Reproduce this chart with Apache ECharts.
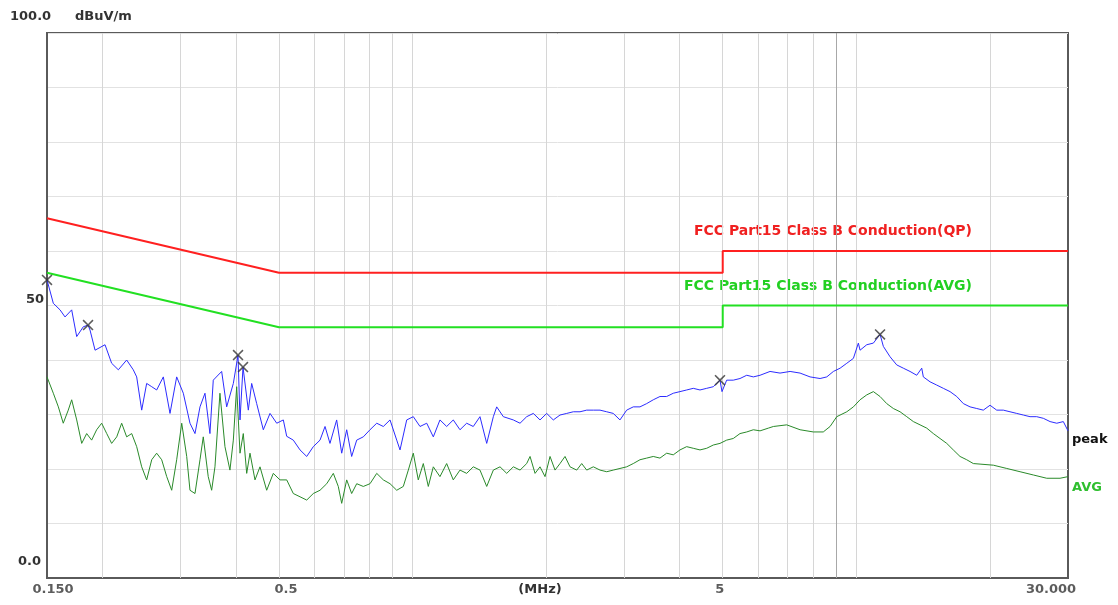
<!DOCTYPE html>
<html>
<head>
<meta charset="utf-8">
<script src="https://cdn.jsdelivr.net/npm/echarts@6/dist/echarts.min.js"></script>
<style>
html,body{margin:0;padding:0;background:#fff;}
#chart{width:1118px;height:605px;}
</style>
</head>
<body>
<div id="chart"></div>
<script>
// ---- data (frequency in MHz, level in dBuV/m) ----
const peakFreq = [0.150,0.155,0.1605,0.1647,0.1705,0.175,0.1811,0.1856,0.1875,0.1925,
0.2027,0.2098,0.2172,0.2268,0.2347,0.2389,0.2452,0.2516,0.2583,0.2650,
0.2743,0.2840,0.2940,0.3043,0.3150,0.3233,0.3318,0.3405,0.3494,0.3555,
0.3713,0.3811,0.3945,0.4042,0.4084,0.4148,0.4264,0.4339,0.4453,0.4609,
0.4772,0.4941,0.5113,0.5204,0.5385,0.5576,0.5773,0.5974,0.6186,0.6349,
0.6514,0.6744,0.6922,0.7104,0.7290,0.7483,0.7744,0.8018,0.8302,0.8592,
0.8896,0.9210,0.9369,0.9700,1.0038,1.0393,1.0761,1.1136,1.1527,1.1935,
1.2351,1.2788,1.3240,1.3702,1.4187,1.4692,1.5206,1.5474,1.6014,1.6869,
1.7466,1.8080,1.8711,1.9373,2.0057,2.0757,2.1491,2.2251,2.3028,2.3841,
2.4686,2.5547,2.6450,2.7384,2.8334,2.9336,3.0374,3.1433,3.2544,3.3695,
3.4871,3.6102,3.7379,3.8682,4.0050,4.1466,4.2918,4.4435,4.6005,4.7610,
4.9295,4.981,5.1038,5.2820,5.4687,5.6636,5.8613,6.0687,6.3915,6.7313,
7.0926,7.4699,7.8669,8.2869,8.5802,8.8797,9.1937,9.5190,9.8511,10.108,
10.197,10.558,10.926,11.312,11.507,11.913,12.334,12.764,13.216,13.683,
14.044,14.161,14.662,15.180,15.711,16.266,16.841,17.429,18.045,18.683,
19.331,20.016,20.723,21.445,22.204,22.989,23.793,24.634,25.504,26.400,
27.333,28.299,29.280,30.0];
const peakLevel = [54.7,50.4,49.2,47.9,49.2,44.3,46.1,46.4,45.5,41.8,
42.8,39.4,38.2,40,38.2,36.9,30.8,35.7,35.1,34.5,
36.9,30.2,36.9,33.9,28.4,26.5,31.4,33.9,26.5,36.3,
37.9,31.4,35.7,40.9,29,38.7,30.8,35.7,32,27.2,
30.2,28.4,29,26,25.3,23.5,22.3,24.1,25.3,27.8,
24.7,29,22.9,27.2,22.3,25.3,25.9,27.2,28.4,27.8,
29,25.3,23.5,29,29.6,27.8,28.4,25.9,29,27.8,
29,27.2,28.4,27.8,29.6,24.7,29.6,31.4,29.6,29,
28.4,29.6,30.2,29,30.2,29,29.9,30.2,30.5,30.5,
30.8,30.8,30.8,30.5,30.2,29,30.8,31.4,31.4,32,
32.7,33.3,33.3,33.9,34.2,34.5,34.8,34.5,34.8,35.1,
36.3,34.2,36.3,36.3,36.6,37.2,36.9,37.2,37.9,37.6,
37.9,37.6,36.9,36.6,36.9,37.9,38.5,39.4,40.3,43.1,
41.8,42.8,43.1,44.7,42.5,40.6,39.1,38.5,37.9,37.2,
38.5,36.9,36,35.4,34.8,34.2,33.3,32,31.4,31.1,
30.8,31.7,30.8,30.8,30.5,30.2,29.9,29.6,29.6,29.3,
28.7,28.4,28.7,27];

const avgFreq = [0.150,0.155,0.1591,0.1632,0.1675,0.1705,0.175,0.1796,0.1843,0.1891,
0.1941,0.1992,0.2045,0.2098,0.2154,0.2210,0.2268,0.2328,0.2389,0.2452,
0.2516,0.2583,0.2650,0.2720,0.2792,0.2865,0.2940,0.3018,0.3097,0.3150,
0.3233,0.3318,0.3375,0.3463,0.3525,0.3586,0.3680,0.3777,0.3876,0.3945,
0.4014,0.4084,0.4154,0.4228,0.4301,0.4414,0.4530,0.4690,0.4854,0.5025,
0.5204,0.5385,0.5576,0.5773,0.5974,0.6186,0.6405,0.6628,0.6801,0.6922,
0.7104,0.7290,0.7483,0.7744,0.8018,0.8302,0.8592,0.8896,0.9210,0.9530,
0.9781,1.0038,1.0300,1.0572,1.0850,1.1136,1.1527,1.1935,1.2351,1.2788,
1.3240,1.3702,1.4187,1.4692,1.5206,1.5743,1.6300,1.6869,1.7466,1.8080,
1.8397,1.8881,1.9373,1.9883,2.0406,2.0942,2.1491,2.2058,2.2637,2.3438,
2.4054,2.4686,2.5547,2.6450,2.7384,2.8334,2.9336,3.0374,3.1433,3.2544,
3.3695,3.4871,3.6102,3.7379,3.8682,4.0050,4.1466,4.2918,4.4435,4.6005,
4.7610,4.9295,5.1038,5.2820,5.4687,5.6636,5.8613,6.0687,6.3354,6.5033,
6.9701,7.4699,8.0019,8.4254,8.7276,9.0362,9.5190,9.8511,10.197,10.558,
10.926,11.312,11.711,12.120,12.549,12.993,13.447,13.922,14.414,14.916,
15.442,15.988,16.545,17.130,17.736,18.355,19.005,20.365,21.833,23.394,
25.067,26.864,28.785,30.0];
const avgLevel = [36.9,33.9,31.4,28.4,30.8,32.7,29,24.7,26.5,25.3,
27.2,28.4,26.5,24.7,25.9,28.4,25.9,26.5,24.1,20.4,
18,21.7,22.9,21.7,18.6,16.1,21.7,28.4,22.3,16.1,
15.5,21.7,25.9,18.6,16.1,20.4,33.9,24.1,19.8,25.3,
35.1,22.9,26.5,19.2,22.9,18,20.4,16.1,19.2,18,
18,15.5,14.9,14.3,15.5,16.1,17.3,19.2,16.8,13.7,
18,15.5,17.3,16.8,17.3,19.2,18,17.3,16.1,16.8,
19.8,22.9,18,21,16.8,20.4,18.6,21,18,19.8,
19.2,20.4,19.8,16.8,19.8,20.4,19.2,20.4,19.8,21,
22.3,19.2,20.4,18.6,22.3,19.8,21,22.3,20.4,19.8,
21,19.8,20.4,19.8,19.5,19.8,20.1,20.4,21,21.7,
22,22.3,22,22.9,22.6,23.5,24.1,23.8,23.5,23.8,
24.4,24.7,25.3,25.6,26.5,26.8,27.2,27,27.5,27.8,
28.1,27.2,26.8,26.8,27.8,29.6,30.5,31.4,32.7,33.6,
34.2,33.3,32,31.1,30.5,29.6,28.7,28.1,27.5,26.5,
25.6,24.7,23.5,22.3,21.7,21,20.9,20.7,20.1,19.5,
18.9,18.3,18.3,18.6];

const limitFreq = [0.15, 0.5, 5, 5, 30];
const limitQP = [66, 56, 56, 60, 60];
const limitAVG = [56, 46, 46, 50, 50];

const markerFreq = [0.150, 0.1856, 0.4042, 0.4148, 4.9295, 11.312];
const markerLevel = [54.7, 46.4, 40.9, 38.7, 36.3, 44.7];

const xTickValues = [0.15, 0.5, 5, 30];
const xTickLabels = ['0.150', '0.5', '5', '30.000'];
const yTickValues = [0, 50, 100];
const yTickLabels = ['0.0', '50', '100.0'];
const gridFreqs = [0.2,0.3,0.4,0.5,0.6,0.7,0.8,0.9,1,2,3,4,5,6,7,8,9,10,20];

const qpTitle = 'FCC Part15 Class B Conduction(QP)';
const avgTitle = 'FCC Part15 Class B Conduction(AVG)';

// ---- chart ----
const FONT = '"DejaVu Sans", "Liberation Sans", sans-serif';
const zip = (a, b) => a.map((v, i) => [v, b[i]]);
const chart = echarts.init(document.getElementById('chart'));
const xLabelOffsets = [[6,0],[7,0],[-3,0],[-17,0]];
const yRichKeys = ['b','m','t'];

const option = {
  backgroundColor: '#fff',
  animation: false,
  textStyle: { fontFamily: FONT },
  grid: { left: 47, right: 50, top: 33, bottom: 27, show: true, borderColor: '#5a5a5a', borderWidth: 2, containLabel: false },
  xAxis: {
    type: 'log', logBase: 10, min: 0.15, max: 30,
    name: '(MHz)', nameLocation: 'middle', nameGap: 12,
    nameTextStyle: { fontFamily: FONT, fontSize: 13, fontWeight: 'bold', color: '#333', verticalAlign: 'middle', padding: [0, 35, 0, 0] },
    axisLine: { show: true, lineStyle: { color: '#5a5a5a', width: 2 } },
    axisTick: { show: false },
    axisLabel: { show: false },
    splitLine: { show: false },
    minorSplitLine: { show: false }
  },
  yAxis: {
    type: 'value', min: 0, max: 100, interval: 10,
    name: 'dBuV/m', nameLocation: 'end', nameGap: 16,
    nameTextStyle: { fontFamily: FONT, fontSize: 13, fontWeight: 'bold', color: '#333', align: 'left', verticalAlign: 'middle', padding: [0, 0, 0, 28] },
    axisLine: { show: true, lineStyle: { color: '#5a5a5a', width: 2 } },
    axisTick: { show: false },
    splitLine: { show: true, lineStyle: { color: '#e2e2e2', width: 1 } },
    axisLabel: {
      show: true, align: 'left', margin: 40, verticalAlign: 'middle',
      fontFamily: FONT, fontSize: 13, fontWeight: 'bold', color: '#333',
      formatter: v => {
        const i = yTickValues.indexOf(v);
        return i < 0 ? '' : '{' + yRichKeys[i] + '|' + yTickLabels[i] + '}';
      },
      rich: {
        t: { fontFamily: FONT, fontSize: 13, fontWeight: 'bold', color: '#333', padding: [0, 0, 32, 3] },
        m: { fontFamily: FONT, fontSize: 13, fontWeight: 'bold', color: '#333', padding: [0, 0, 11, 19] },
        b: { fontFamily: FONT, fontSize: 13, fontWeight: 'bold', color: '#333', padding: [0, 0, 32, 11] }
      }
    }
  },
  graphic: [
    { type: 'text', right: 1118 - 972, top: 224, style: { text: qpTitle, fill: '#f02020', font: 'bold 14px ' + FONT } },
    { type: 'text', right: 1118 - 972, top: 279, style: { text: avgTitle, fill: '#22d022', font: 'bold 14px ' + FONT } }
  ],
  series: [
    {
      name: 'ticks', type: 'scatter', z: 1, clip: false, silent: true,
      symbolSize: 0,
      data: xTickValues.map((v, i) => ({
        value: [v, 0],
        label: { offset: xLabelOffsets[i] }
      })),
      label: {
        show: true, position: 'bottom', distance: 5,
        fontFamily: FONT, fontSize: 13, fontWeight: 'bold', color: '#333',
        formatter: p => xTickLabels[p.dataIndex]
      },
      markLine: {
        silent: true, symbol: 'none', animation: false, z: 1,
        label: { show: false },
        lineStyle: { color: '#d6d6d6', width: 1, type: 'solid' },
        data: gridFreqs.map(f => f === 9 ? { xAxis: f, lineStyle: { color: '#a8a8a8', width: 1, type: 'solid' } } : { xAxis: f })
      }
    },
    {
      name: 'QP limit', type: 'line', z: 3, symbol: 'none',
      data: zip(limitFreq, limitQP),
      lineStyle: { color: '#ff2020', width: 2 }
    },
    {
      name: 'AVG limit', type: 'line', z: 3, symbol: 'none',
      data: zip(limitFreq, limitAVG),
      lineStyle: { color: '#22e022', width: 2 }
    },
    {
      name: 'AVG', type: 'line', z: 4, symbol: 'none',
      data: zip(avgFreq, avgLevel),
      lineStyle: { color: '#2a8a2a', width: 1 },
      endLabel: { show: true, formatter: 'AVG', color: '#2fbf2f', fontFamily: FONT, fontSize: 13, fontWeight: 'bold', distance: 4, offset: [0, 11] }
    },
    {
      name: 'peak', type: 'line', z: 5, symbol: 'none',
      data: zip(peakFreq, peakLevel),
      lineStyle: { color: '#2c2cff', width: 1 },
      endLabel: { show: true, formatter: 'peak', color: '#111', fontFamily: FONT, fontSize: 13, fontWeight: 'bold', distance: 4, offset: [0, 9] }
    },
    {
      name: 'markers', type: 'scatter', z: 6, clip: false,
      symbol: 'path://M0,1 L1,0 L5,4 L9,0 L10,1 L6,5 L10,9 L9,10 L5,6 L1,10 L0,9 L4,5 Z',
      symbolSize: 11,
      itemStyle: { color: '#333' },
      data: zip(markerFreq, markerLevel)
    }
  ]
};
chart.setOption(option);
</script>
</body>
</html>
